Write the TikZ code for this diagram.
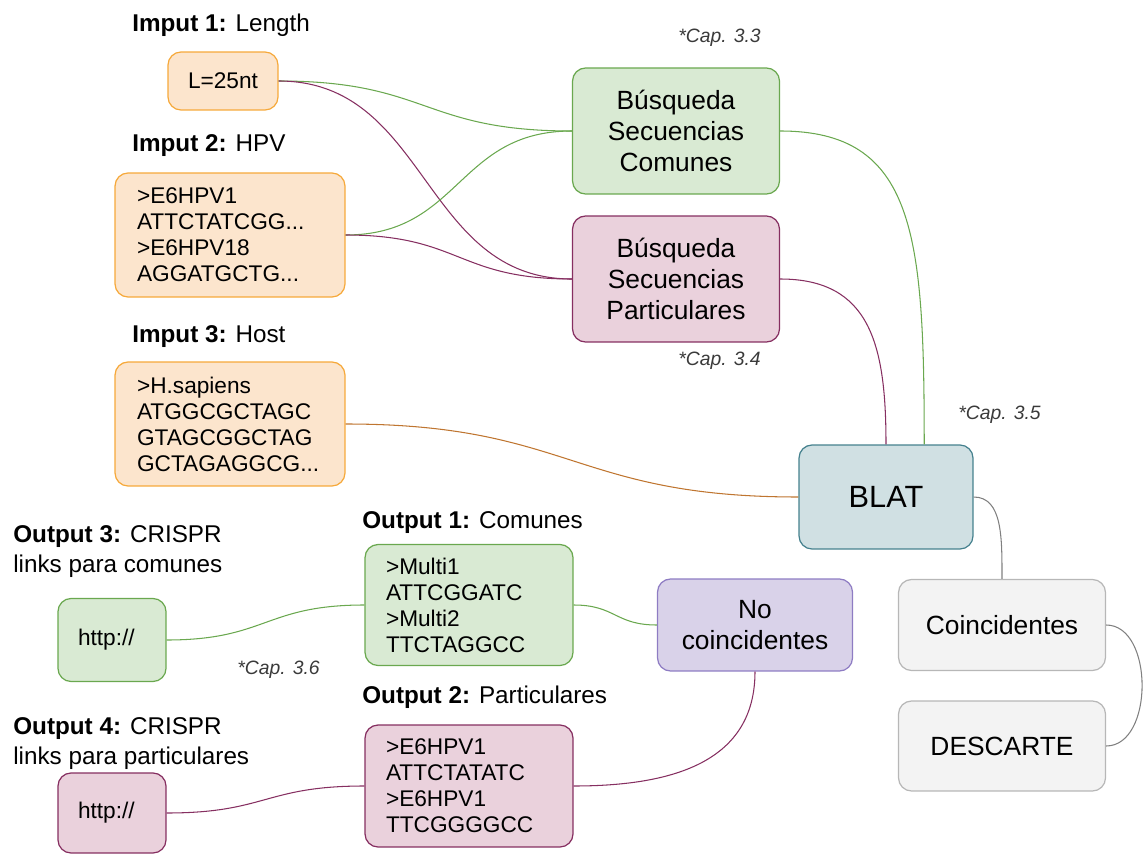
\documentclass[tikz,border=0pt]{standalone}
\usepackage{fontspec}
\setmainfont{Liberation Sans}
\definecolor{orfill}{HTML}{FCE5CD}
\definecolor{ordraw}{HTML}{F6A93B}
\definecolor{gnfill}{HTML}{D9EAD3}
\definecolor{gndraw}{HTML}{6AA84F}
\definecolor{pkfill}{HTML}{EAD1DC}
\definecolor{pkdraw}{HTML}{862F61}
\definecolor{vifill}{HTML}{D9D2E9}
\definecolor{vidraw}{HTML}{8E7CC3}
\definecolor{blfill}{HTML}{D0E0E3}
\definecolor{bldraw}{HTML}{45818E}
\definecolor{gyfill}{HTML}{F3F3F3}
\definecolor{gydraw}{HTML}{B7B7B7}
\definecolor{orline}{HTML}{BF7530}
\definecolor{capgray}{HTML}{3A3A3A}
\begin{document}
\begin{tikzpicture}[x=0.02cm,y=-0.02cm,
  bx/.style={draw,rounded corners=0.26cm,line width=0.7pt,inner sep=0pt},
  seq/.style={bx,align=left,font=\fontsize{12.9}{14.8}\selectfont},
  big/.style={bx,align=center,font=\fontsize{15}{17.6}\selectfont},
  orb/.style={fill=orfill,draw=ordraw},
  gnb/.style={fill=gnfill,draw=gndraw},
  pkb/.style={fill=pkfill,draw=pkdraw},
  lbl/.style={inner sep=0pt,align=left,font=\fontsize{13.8}{17}\selectfont},
  capnote/.style={inner sep=0pt,text=capgray,font=\fontsize{11}{13}\selectfont\itshape},
  cn/.style={line width=0.6pt}]
  \useasboundingbox (0,0) rectangle (1143,855);
  \node[seq,orb,align=center,minimum width=2.2cm,minimum height=1.16cm] (len) at (223,81){L=25nt};
  \node[seq,orb,text width=3.72cm,minimum width=4.6cm,minimum height=2.48cm] (hpv) at (230,235){>E6HPV1\\ATTCTATCGG...\\>E6HPV18\\AGGATGCTG...};
  \node[seq,orb,text width=3.72cm,minimum width=4.6cm,minimum height=2.48cm] (host) at (230,424){>H.sapiens\\ATGGCGCTAGC\\GTAGCGGCTAG\\GCTAGAGGCG...};
  \node[big,gnb,minimum width=4.14cm,minimum height=2.52cm] (com) at (676,131){Búsqueda\\Secuencias\\Comunes};
  \node[big,pkb,minimum width=4.14cm,minimum height=2.52cm] (par) at (676,279){Búsqueda\\Secuencias\\Particulares};
  \node[bx,fill=blfill,draw=bldraw,font=\fontsize{17.5}{20}\selectfont,minimum width=3.48cm,minimum height=2.08cm] (blat) at (886,497){BLAT};
  \node[big,fill=gyfill,draw=gydraw,minimum width=4.14cm,minimum height=1.82cm] (coin) at (1002,625){Coincidentes};
  \node[big,fill=gyfill,draw=gydraw,minimum width=4.14cm,minimum height=1.8cm] (desc) at (1002,746){DESCARTE};
  \node[big,fill=vifill,draw=vidraw,minimum width=3.9cm,minimum height=1.84cm] (noco) at (755,625){No\\coincidentes};
  \node[seq,gnb,text width=3.32cm,minimum width=4.16cm,minimum height=2.42cm] (out1) at (469,605){>Multi1\\ATTCGGATC\\>Multi2\\TTCTAGGCC};
  \node[seq,pkb,text width=3.32cm,minimum width=4.16cm,minimum height=2.44cm] (out2) at (469,786){>E6HPV1\\ATTCTATATC\\>E6HPV1\\TTCGGGGCC};
  \node[seq,gnb,text width=1.36cm,minimum width=2.16cm,minimum height=1.66cm] (web1) at (112,640){http://};
  \node[seq,pkb,text width=1.36cm,minimum width=2.16cm,minimum height=1.6cm] (web2) at (112,813){http://};
  \node[lbl,anchor=base west] (l1) at (132,32){\textbf{Imput 1:} Length};
  \node[lbl,anchor=base west] (l2) at (132,152){\textbf{Imput 2:} HPV};
  \node[lbl,anchor=base west] (l3) at (132,342){\textbf{Imput 3:} Host};
  \node[lbl,anchor=base west] (o1) at (362,528){\textbf{Output 1:} Comunes};
  \node[lbl,anchor=base west] (o2) at (362,703){\textbf{Output 2:} Particulares};
  \node[lbl,anchor=north west] (o3) at (13,525){\textbf{Output 3:} CRISPR\\links para comunes};
  \node[lbl,anchor=north west] (o4) at (13,717){\textbf{Output 4:} CRISPR\\links para particulares};
  \node[capnote,anchor=base west] (c33) at (678,43){*Cap. 3.3};
  \node[capnote,anchor=base west] (c34) at (678,365){*Cap. 3.4};
  \node[capnote,anchor=base west] (c35) at (958,419){*Cap. 3.5};
  \node[capnote,anchor=base west] (c36) at (237,674){*Cap. 3.6};
  \draw[cn,gndraw] (len.east) .. controls +(150,0) and +(-150,0) .. (com.west);
  \draw[cn,pkdraw] (len.east) .. controls +(150,0) and +(-150,0) .. (par.west);
  \draw[cn,gndraw] (hpv.east) .. controls +(115,0) and +(-115,0) .. (com.west);
  \draw[cn,pkdraw] (hpv.east) .. controls +(115,0) and +(-115,0) .. (par.west);
  \draw[cn,orline] (host.east) .. controls +(225,0) and +(-225,0) .. (blat.west);
  \draw[cn,gndraw] (com.east) .. controls +(135,0) and +(0,-210) .. (blat.54);
  \draw[cn,pkdraw] (par.east) .. controls +(90,0) and +(0,-100) .. (blat.north);
  \draw[cn,gray] (blat.east) .. controls +(29,0) and +(0,-41) .. (coin.north);
  \draw[cn,gray] (coin.east) .. controls +(48,0) and +(48,0) .. (desc.east);
  \draw[cn,gndraw] (noco.west) .. controls +(-42,0) and +(42,0) .. (out1.east);
  \draw[cn,pkdraw] (noco.south) .. controls +(0,90) and +(100,0) .. (out2.east);
  \draw[cn,gndraw] (out1.west) .. controls +(-100,0) and +(100,0) .. (web1.east);
  \draw[cn,pkdraw] (out2.west) .. controls +(-100,0) and +(100,0) .. (web2.east);
\end{tikzpicture}
\end{document}
